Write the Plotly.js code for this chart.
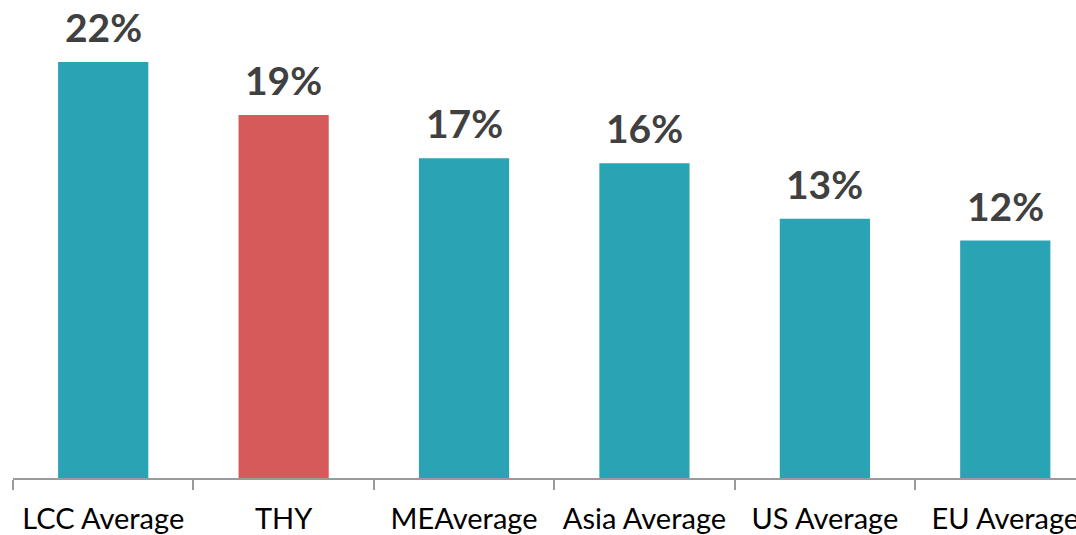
<!DOCTYPE html>
<html>
<head>
<meta charset="utf-8">
<script src="https://cdn.plot.ly/plotly-3.0.1.min.js"></script>
<style>html,body{margin:0;padding:0;background:#fff;}#chart{width:1076px;height:535px;}</style>
</head>
<body>
<div id="chart"></div>
<script>
var categories = ['LCC Average', 'THY', 'MEAverage', 'Asia Average', 'US Average', 'EU Average'];
var values = [21.57, 18.82, 16.58, 16.32, 13.44, 12.31];
var labels = ['22%', '19%', '17%', '16%', '13%', '12%'];
var barColors = ['#2AA3B4', '#D65A5A', '#2AA3B4', '#2AA3B4', '#2AA3B4', '#2AA3B4'];

var trace = {
  type: 'bar',
  x: categories,
  y: values,
  marker: {color: barColors, line: {width: 0}},
  hoverinfo: 'x+y'
};

var annotations = categories.map(function (c, i) {
  return {
    x: c, y: values[i], xref: 'x', yref: 'y',
    text: labels[i], showarrow: false,
    xanchor: 'center', yanchor: 'bottom', yshift: 10,
    font: {family: 'Lato, "Open Sans", sans-serif', size: 39, color: '#404040', weight: 'bold'}
  };
});

var layout = {
  width: 1076, height: 535,
  margin: {l: 13, r: 0, t: 0, b: 57, pad: 0},
  paper_bgcolor: '#ffffff', plot_bgcolor: '#ffffff',
  bargap: 0.5,
  showlegend: false,
  xaxis: {
    type: 'category',
    range: [-0.5, 5.392],
    showline: true, linecolor: '#9a9a9a', linewidth: 2,
    ticks: 'outside', tickson: 'boundaries', ticklen: 10, tickwidth: 2, tickcolor: '#9a9a9a',
    showgrid: false, zeroline: false,
    tickfont: {family: 'Lato, "Open Sans", sans-serif', size: 29, color: '#000000'},
    ticklabelstandoff: 14
  },
  yaxis: {
    range: [0, 24.78],
    visible: false, showgrid: false, zeroline: false, fixedrange: true
  },
  annotations: annotations
};

Plotly.newPlot('chart', [trace], layout, {displayModeBar: false, staticPlot: true});
</script>
</body>
</html>
